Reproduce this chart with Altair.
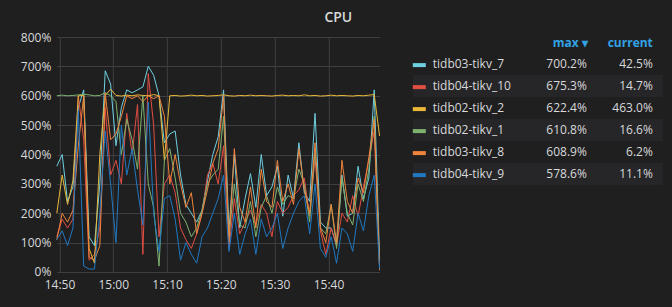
import altair as alt
import pandas as pd

names = ["tidb03-tikv_7", "tidb04-tikv_10", "tidb02-tikv_2", "tidb02-tikv_1", "tidb03-tikv_8", "tidb04-tikv_9"]
colors = ["#6ED0E0", "#E24D42", "#EAB839", "#7EB26D", "#EF843C", "#1F78C1"]

start_time = "2018-01-01 14:49:30"
n_points = 61
x_tick_minutes = [(14, 50), (15, 0), (15, 10), (15, 20), (15, 30), (15, 40)]

cyan = [360, 400, 240, 290, 560, 620, 120, 90, 300, 685, 640, 430, 560, 620, 610, 620, 630, 700.2, 670, 600,
        440, 470, 480, 330, 230, 200, 170, 210, 310, 400, 460, 620, 140, 400, 150, 250, 335, 220, 400, 260,
        290, 360, 190, 330, 250, 440, 270, 240, 540, 170, 150, 150, 90, 330, 190, 200, 360, 250, 320, 620, 42.5]
red = [120, 180, 150, 180, 600, 450, 40, 60, 150, 560, 330, 380, 300, 540, 400, 570, 60, 675.3, 500, 120,
       300, 330, 270, 150, 110, 80, 130, 200, 330, 370, 300, 430, 80, 250, 130, 170, 210, 160, 230, 200,
       120, 240, 200, 220, 260, 280, 320, 190, 390, 140, 60, 150, 90, 200, 170, 260, 190, 290, 380, 480, 14.7]
yellow = [200, 330, 230, 310, 600, 601, 80, 30, 400, 600, 622.4, 601, 599, 602, 600, 603, 601, 600, 604, 600,
          380, 600, 601, 599, 600, 602, 600, 601, 599, 600, 601, 603, 600, 599, 601, 600, 602, 600, 601, 600,
          599, 601, 602, 600, 601, 600, 603, 600, 601, 599, 600, 602, 600, 601, 600, 599, 601, 600, 602, 604, 463.0]
green = [600, 602, 600, 601, 603, 605, 603, 600, 601, 610.8, 600, 580, 400, 520, 450, 350, 600, 300, 220, 20,
         380, 420, 320, 200, 170, 120, 150, 210, 300, 330, 350, 530, 120, 300, 160, 150, 240, 120, 220, 260,
         200, 290, 230, 260, 250, 350, 300, 170, 420, 150, 130, 230, 80, 320, 200, 160, 300, 240, 350, 530, 16.6]
orange = [110, 200, 170, 210, 430, 600, 50, 40, 90, 608.9, 450, 470, 530, 600, 590, 600, 580, 600, 590, 600,
          530, 300, 400, 300, 220, 270, 130, 200, 280, 370, 420, 600, 100, 420, 220, 170, 290, 150, 350, 240,
          220, 380, 240, 300, 230, 420, 280, 200, 440, 150, 100, 230, 100, 380, 240, 200, 320, 270, 390, 520, 6.2]
blue = [110, 140, 90, 150, 550, 20, 10, 10, 200, 480, 300, 100, 500, 330, 420, 280, 160, 578.6, 200, 70,
        250, 260, 180, 40, 100, 60, 30, 120, 150, 200, 250, 330, 70, 200, 60, 130, 180, 60, 180, 120,
        150, 200, 80, 150, 200, 240, 260, 130, 300, 80, 50, 120, 30, 150, 130, 70, 200, 140, 260, 330, 11.1]

series = [cyan, red, yellow, green, orange, blue]
y_ticks = [0, 100, 200, 300, 400, 500, 600, 700, 800]

times = pd.date_range(start_time, periods=n_points, freq="1min")
time_str = [t.strftime("%Y-%m-%dT%H:%M:%S") for t in times]

rows = []
for n, vals in zip(names, series):
    for t, v in zip(time_str, vals):
        rows.append({"time": t, "name": n, "value": v})
df = pd.DataFrame(rows)

leg = pd.DataFrame({
    "name": names,
    "maxs": [f"{max(v):.1f}%" for v in series],
    "cur": [f"{v[-1]:.1f}%" for v in series],
    "odd": [i % 2 == 1 for i in range(len(names))],
})

TEXT = "#d8d9da"
FONT = "Open Sans"
BG = "#1f1f20"
GRID = "#3f3f41"


def dt(ts):
    return alt.DateTime(year=ts.year, month=ts.month, date=ts.day,
                        hours=ts.hour, minutes=ts.minute, seconds=ts.second)


x_ticks = [alt.DateTime(year=2018, month=1, date=1, hours=h, minutes=m) for h, m in x_tick_minutes]

color_scale = alt.Scale(domain=names, range=colors)

lines = alt.Chart(df).mark_line(strokeWidth=1).encode(
    x=alt.X("time:T",
            scale=alt.Scale(domain=[dt(times[0]), dt(times[-1])]),
            axis=alt.Axis(title=None, format="%H:%M", values=x_ticks,
                          domain=False, ticks=False, grid=True, gridColor=GRID,
                          labelColor=TEXT, labelFont=FONT, labelFontSize=12, labelPadding=8)),
    y=alt.Y("value:Q",
            scale=alt.Scale(domain=[0, 800], nice=False),
            axis=alt.Axis(title=None, values=y_ticks, labelExpr="datum.value + '%'",
                          domain=False, ticks=False, grid=True, gridColor=GRID,
                          labelColor=TEXT, labelFont=FONT, labelFontSize=12, labelPadding=6)),
    color=alt.Color("name:N", scale=color_scale, legend=None),
)

yleg = alt.Scale(type="band", domain=names, range=[16, 148], paddingInner=0, paddingOuter=0)

row_bg = alt.Chart(leg).transform_filter("datum.odd").mark_rect(color="#262628").encode(
    y=alt.Y("name:N", scale=yleg, axis=None),
    x=alt.value(356), x2=alt.value(606),
)

swatch = alt.Chart(leg).mark_rule(strokeWidth=4).encode(
    y=alt.Y("name:N", scale=yleg, axis=None, bandPosition=0.55),
    x=alt.value(356), x2=alt.value(369),
    color=alt.Color("name:N", scale=color_scale, legend=None),
)

lab = alt.Chart(leg).mark_text(align="left", baseline="middle", font=FONT, fontSize=12, color=TEXT).encode(
    y=alt.Y("name:N", scale=yleg, axis=None, bandPosition=0.5),
    x=alt.value(376), text="name:N",
)
mx = alt.Chart(leg).mark_text(align="right", baseline="middle", font=FONT, fontSize=12, color=TEXT).encode(
    y=alt.Y("name:N", scale=yleg, axis=None, bandPosition=0.5),
    x=alt.value(530), text="maxs:N",
)
cur = alt.Chart(leg).mark_text(align="right", baseline="middle", font=FONT, fontSize=12, color=TEXT).encode(
    y=alt.Y("name:N", scale=yleg, axis=None, bandPosition=0.5),
    x=alt.value(596), text="cur:N",
)

hdr = pd.DataFrame({"label": ["max ▾", "current"], "pos": ["a", "b"]})
hdr_max = alt.Chart(hdr).transform_filter("datum.pos == 'a'").mark_text(
    align="right", baseline="middle", font=FONT, fontSize=12, fontWeight="bold", color="#33a2e5").encode(
    x=alt.value(531), y=alt.value(6), text="label:N")
hdr_cur = alt.Chart(hdr).transform_filter("datum.pos == 'b'").mark_text(
    align="right", baseline="middle", font=FONT, fontSize=12, fontWeight="bold", color="#33a2e5").encode(
    x=alt.value(596), y=alt.value(6), text="label:N")

title = alt.Chart(pd.DataFrame({"t": ["CPU"]})).mark_text(
    align="center", baseline="middle", font=FONT, fontSize=14, fontWeight=600, color=TEXT).encode(
    x=alt.value(281.5), y=alt.value(-19), text="t:N")

chart = alt.layer(lines, row_bg, swatch, lab, mx, cur, hdr_max, hdr_cur, title).resolve_scale(
    y="independent"
).properties(
    width=322.8, height=235,
    autosize=alt.AutoSizeParams(type="none"),
    padding={"left": 56.8, "top": 37, "right": 292.2, "bottom": 35},
    background=BG,
).configure_view(stroke=None)

chart.save("out.html", embed_options={"renderer": "svg", "actions": False})
